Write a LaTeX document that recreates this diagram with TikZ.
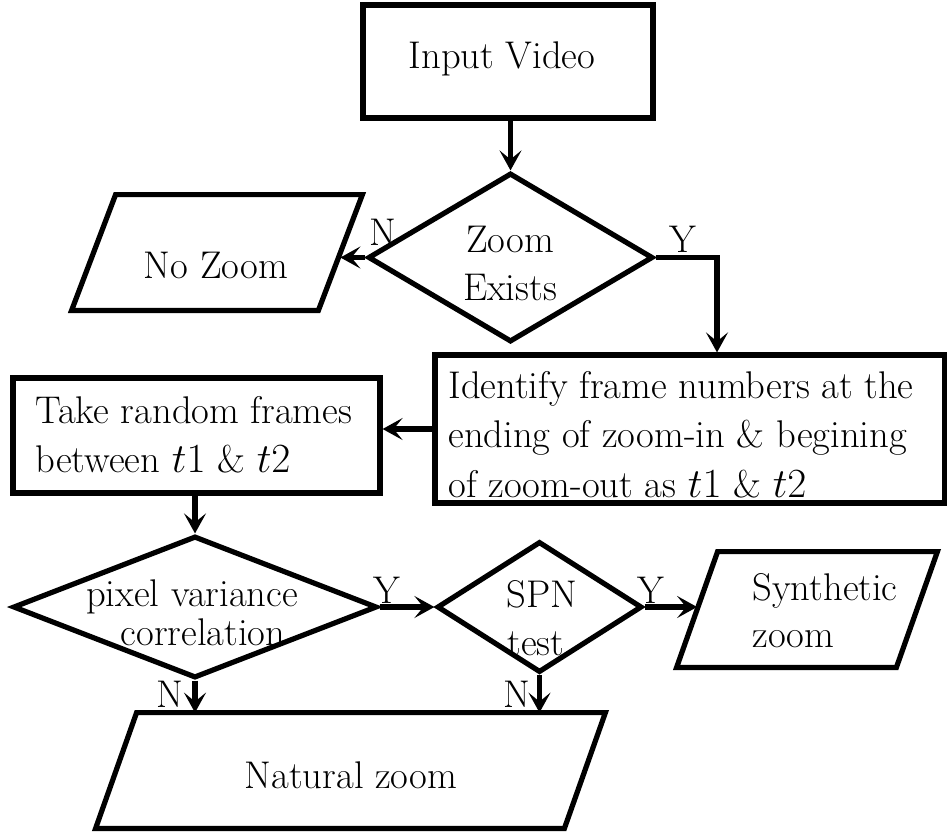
\documentclass[tikz,border=0pt]{standalone}
\usetikzlibrary{shapes.geometric,arrows.meta}
% parallelogram outline around a body node: corners slid by #2 along the top/bottom edges
\newcommand\drawslanted[2]{%
  \draw[line width=2.6pt] ([xshift=#2]#1.north west) -- ([xshift=#2]#1.north east)
    -- ([xshift=-#2]#1.south east) -- ([xshift=-#2]#1.south west) -- cycle;}
\begin{document}
\begin{tikzpicture}[x=0.5pt,y=-0.5pt,
  box/.style={draw, line width=2.6pt, rectangle, inner sep=0pt},
  dia/.style={draw, line width=2.6pt, diamond, inner sep=0pt},
  para/.style={rectangle, inner sep=0pt},
  txt/.style={font=\fontsize{19.3}{24.5}\selectfont, inner sep=0pt},
  flow/.style={line width=2.6pt, -{Stealth[length=10pt,width=11pt,inset=4.5pt]}},
]
\useasboundingbox (0,0) rectangle (947,836);

% shapes
\node[box, minimum width=145pt, minimum height=56.5pt] (iv) at (508,61.5) {};
\node[dia, minimum width=142.5pt, minimum height=84.5pt] (d1) at (510.5,257.5) {};
\node[para, minimum width=123pt, minimum height=57.5pt] (nozoom) at (217,252.5) {};
\node[box, minimum width=255pt, minimum height=74pt] (id) at (690,429) {};
\node[box, minimum width=183.5pt, minimum height=57.5pt] (take) at (196.5,435.5) {};
\node[dia, minimum width=182pt, minimum height=71pt] (d2) at (195,607) {};
\node[dia, minimum width=102.5pt, minimum height=65.5pt] (d3) at (539.5,607) {};
\node[para, minimum width=109.5pt, minimum height=57.5pt] (synth) at (807,609.5) {};
\node[para, minimum width=234pt, minimum height=57.5pt] (natural) at (350.5,770.5) {};
\drawslanted{nozoom}{11pt}
\drawslanted{synth}{10.25pt}
\drawslanted{natural}{10.25pt}

% texts
\node[txt, anchor=base] (iv-t) at (502,68) {Input Video};
\node[txt, anchor=base] (d1-t1) at (510,252) {Zoom};
\node[txt, anchor=base] (d1-t2) at (510,300) {Exists};
\node[txt, anchor=base] (nozoom-t) at (216,278) {No Zoom};
\node[txt, anchor=base west] (id-t1) at (448,398) {Identify frame numbers at the};
\node[txt, anchor=base west] (id-t2) at (448,447) {ending of zoom-in \& begining};
\node[txt, anchor=base west] (id-t3) at (448,497) {of zoom-out as $t1$ \& $t2$};
\node[txt, anchor=base west] (take-t1) at (35,423) {Take random frames};
\node[txt, anchor=base west] (take-t2) at (35,472) {between $t1$ \& $t2$};
\node[txt, anchor=base] (d2-t1) at (192,606) {pixel variance};
\node[txt, anchor=base] (d2-t2) at (203,645) {correlation};
\node[txt, anchor=base] (d3-t1) at (542,607) {SPN};
\node[txt, anchor=base] (d3-t2) at (536,655) {test};
\node[txt, anchor=base west] (synth-t1) at (752,600) {Synthetic};
\node[txt, anchor=base west] (synth-t2) at (752,647) {zoom};
\node[txt, anchor=base] (natural-t) at (351,788) {Natural zoom};

% branch labels
\node[txt, anchor=base] (l-n1) at (383,245) {N};
\node[txt, anchor=base] (l-y1) at (683,252) {Y};
\node[txt, anchor=base] (l-y2) at (387,603) {Y};
\node[txt, anchor=base] (l-y3) at (651,603) {Y};
\node[txt, anchor=base] (l-n2) at (170,707) {N};
\node[txt, anchor=base] (l-n3) at (517,707) {N};

% connectors
\coordinate (yturn) at (717,257.5);
\draw[flow] (d1.north |- iv.south) -- (d1.north);
\draw[flow] (d1.west) -- (d1.west -| nozoom.east);
\draw[flow] (d1.east) -- (yturn) -- (yturn |- id.north);
\draw[flow] (id.west) -- (id.west -| take.east);
\draw[flow] (d2.north |- take.south) -- (d2.north);
\draw[flow] (d2.east) -- (d3.west);
\draw[flow] (d3.east) -- (d3.east -| synth.west);
\draw[flow] (d2.south) -- (d2.south |- natural.north);
\draw[flow] (d3.south) -- (d3.south |- natural.north);
\end{tikzpicture}
\end{document}
